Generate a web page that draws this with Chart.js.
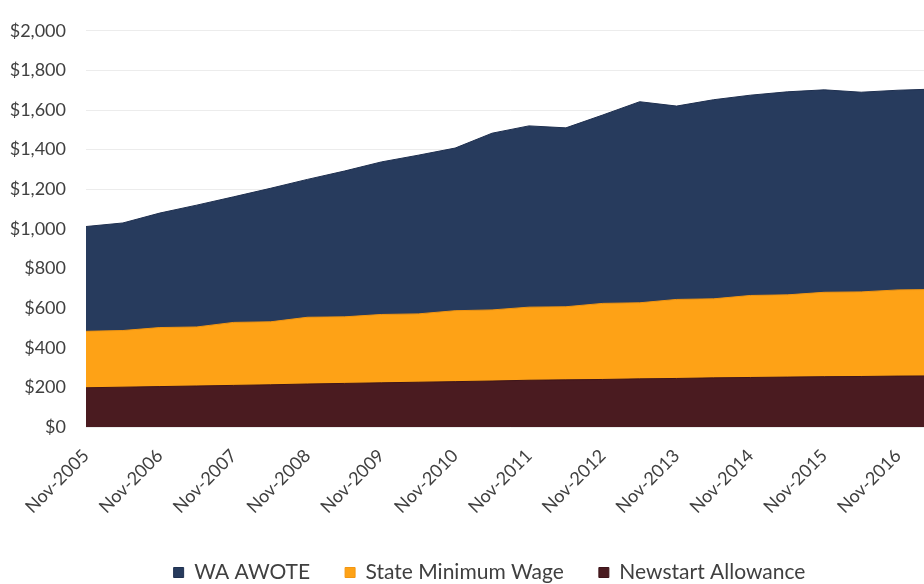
<!DOCTYPE html>
<html>
<head>
<meta charset="utf-8">
<title>WA earnings vs minimum wage vs Newstart</title>
<script src="https://cdn.jsdelivr.net/npm/chart.js@4.4.1/dist/chart.umd.min.js"></script>
<style>
  html, body { margin: 0; padding: 0; background: #fff; overflow: hidden; }
  #wrap { position: relative; width: 979px; height: 593px; }
</style>
</head>
<body>
<div id="wrap"><canvas id="wageChart"></canvas></div>
<script>
// half-yearly observations, Nov-2005 to May-2017
var periods = ['Nov-2005', 'May-2006', 'Nov-2006', 'May-2007', 'Nov-2007', 'May-2008',
  'Nov-2008', 'May-2009', 'Nov-2009', 'May-2010', 'Nov-2010', 'May-2011',
  'Nov-2011', 'May-2012', 'Nov-2012', 'May-2013', 'Nov-2013', 'May-2014',
  'Nov-2014', 'May-2015', 'Nov-2015', 'May-2016', 'Nov-2016', 'May-2017'];

// weekly dollars
var awote = [1012, 1030, 1080, 1120, 1162, 1205, 1250, 1292, 1338, 1372, 1408, 1483,
  1520, 1510, 1575, 1642, 1620, 1652, 1675, 1692, 1702, 1690, 1700, 1706];
var minWage = [483, 487, 502, 505, 528, 531, 554, 556, 568, 571, 587, 591,
  605, 607, 624, 627, 644, 647, 664, 667, 680, 682, 692, 694];
var newstart = [198, 201, 204, 207, 210, 213, 217, 220, 223, 226, 229, 232,
  236, 238, 240, 243, 245, 248, 250, 252, 254, 255, 257, 258];

Chart.defaults.font.family = 'Lato, "Noto Sans", sans-serif';
Chart.defaults.color = '#404040';

var ctx = document.getElementById('wageChart').getContext('2d');

function area(label, data, fill, edge, order) {
  return {
    label: label,
    data: data,
    backgroundColor: fill,
    borderColor: edge,
    borderWidth: 1,
    fill: 'origin',
    pointRadius: 0,
    tension: 0,
    order: order
  };
}

// nudge the legend right so it sits under the middle of the whole figure
var legendShift = {
  id: 'legendShift',
  afterLayout: function (chart) {
    if (chart.legend) chart.legend.left += 44;
  }
};

var wageChart = new Chart(ctx, {
  type: 'line',
  data: {
    labels: periods,
    datasets: [
      area('WA AWOTE', awote, '#273b5d', '#1f3050', 2),
      area('State Minimum Wage', minWage, '#fea216', '#f29612', 1),
      area('Newstart Allowance', newstart, '#4a1b20', '#3e151a', 0)
    ]
  },
  plugins: [legendShift],
  options: {
    responsive: true,
    maintainAspectRatio: false,
    animation: false,
    layout: { padding: { left: 0, right: 44, top: 20, bottom: 0 } },
    plugins: {
      tooltip: { enabled: false },
      legend: {
        position: 'bottom',
        labels: {
          boxWidth: 10,
          boxHeight: 10,
          padding: 35,
          font: { size: 21 },
          color: '#404040',
          sort: function (a, b) { return a.datasetIndex - b.datasetIndex; }
        }
      }
    },
    scales: {
      x: {
        grid: { display: false, drawTicks: false },
        border: { display: false },
        ticks: {
          autoSkip: false,
          minRotation: 45,
          maxRotation: 45,
          padding: 18,
          font: { size: 18 },
          callback: function (v, i) {
            return i % 2 === 0 ? this.getLabelForValue(v) : '';
          }
        },
        afterFit: function (s) {
          var lg = s.chart.legend ? s.chart.legend.height : 0;
          s.height = s.chart.height - 427 - lg;
        }
      },
      y: {
        min: 0,
        max: 2000,
        grid: { color: '#ececec', drawTicks: false },
        border: { display: false },
        ticks: {
          stepSize: 200,
          padding: 20,
          font: { size: 18 },
          callback: function (v) { return '$' + v.toLocaleString('en-US'); }
        },
        afterFit: function (s) { s.width = 86; }
      }
    }
  }
});
</script>
</body>
</html>
